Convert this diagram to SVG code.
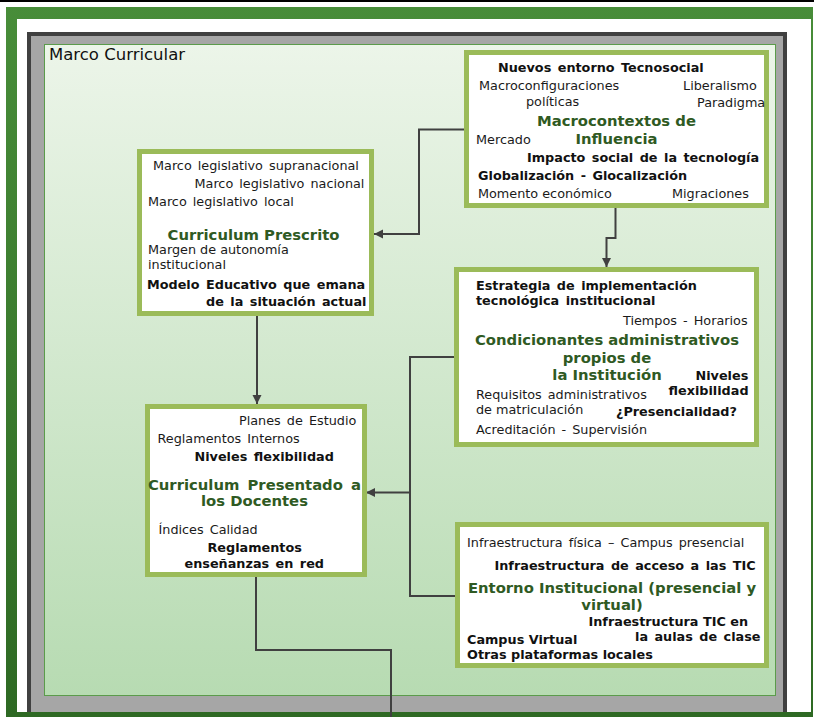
<svg xmlns="http://www.w3.org/2000/svg" width="814" height="717" viewBox="0 0 814 717">
<defs>
<linearGradient id="frameG" x1="0" y1="0" x2="0" y2="717" gradientUnits="userSpaceOnUse">
<stop offset="0" stop-color="#488d39"/>
<stop offset="1" stop-color="#2e6923"/>
</linearGradient>
<linearGradient id="bgG" x1="0" y1="44" x2="0" y2="696" gradientUnits="userSpaceOnUse">
<stop offset="0" stop-color="#ecf5e9"/>
<stop offset="1" stop-color="#b7dbb2"/>
</linearGradient>
<marker id="arr" markerUnits="userSpaceOnUse" markerWidth="10" markerHeight="10" refX="9" refY="5" orient="auto">
<path d="M0,0.5 L9,5 L0,9.5 Z" fill="#404040"/>
</marker>
</defs>
<style>
.node{fill:#ffffff;stroke:#9bbb59;stroke-width:5}
.t{font-family:"DejaVu Sans",Verdana,sans-serif;font-size:12.8px;fill:#1a1a1a}
.b{font-family:"DejaVu Sans",Verdana,sans-serif;font-size:12.8px;font-weight:bold;fill:#111111}
.h{font-family:"DejaVu Sans",Verdana,sans-serif;font-size:14.8px;font-weight:bold;fill:#2f5a23;text-anchor:middle}
.c{fill:none;stroke:#404040;stroke-width:2}
</style>
<rect x="0" y="0" width="814" height="717" fill="#ffffff"/>
<rect x="0" y="0" width="814" height="2" fill="#000000"/>
<g id="background">
<rect x="29" y="34" width="756" height="690" fill="#a6a6a6" stroke="#404040" stroke-width="4"/>
<path d="M6,7 H813 V717 H6 Z M17,19 V712 H811 V19 Z" fill="url(#frameG)" fill-rule="evenodd"/>
<rect x="44.5" y="44.5" width="731" height="651" fill="url(#bgG)" stroke="#5b9b4b" stroke-width="1"/>
<text x="49" y="60" style="font-family:'DejaVu Sans',Verdana,sans-serif;font-size:16.5px;fill:#111111">Marco Curricular</text>
</g>
<g id="connectors">
<path class="c" d="M464,129.5 H419 V234 H374" marker-end="url(#arr)"/>
<path class="c" d="M615.5,208 V238 H606.5 V267" marker-end="url(#arr)"/>
<path class="c" d="M257,316 V404" marker-end="url(#arr)"/>
<path class="c" d="M454,357 H410 V596 H455"/>
<path class="c" d="M410,492.5 H366" marker-end="url(#arr)"/>
<path class="c" d="M256,577 V650 H391 V717"/>
</g>
<g id="macrocontextos">
<rect class="node" x="466.5" y="52.5" width="300" height="153"/>
<text class="b" x="498" y="72" word-spacing="2">Nuevos entorno Tecnosocial</text>
<text class="t" x="479" y="90">Macroconfiguraciones</text>
<text class="t" x="526" y="105.5">políticas</text>
<text class="t" x="683" y="89.5">Liberalismo</text>
<text class="t" x="697" y="107">Paradigma</text>
<text class="h" x="616.5" y="126">Macrocontextos de</text>
<text class="h" x="616.5" y="144">Influencia</text>
<text class="t" x="476" y="143.5">Mercado</text>
<text class="b" x="527" y="162" word-spacing="2">Impacto social de la tecnología</text>
<text class="b" x="478" y="179.5" word-spacing="2">Globalización  - Glocalización</text>
<text class="t" x="478" y="197.5">Momento económico</text>
<text class="t" x="672" y="197.5">Migraciones</text>
</g>
<g id="curriculum-prescrito">
<rect class="node" x="139.5" y="151.5" width="232" height="162"/>
<text class="t" x="153" y="170" word-spacing="2">Marco legislativo supranacional</text>
<text class="t" x="194.5" y="188" word-spacing="2">Marco legislativo nacional</text>
<text class="t" x="148" y="206" word-spacing="2">Marco legislativo local</text>
<text class="h" x="253.5" y="240">Curriculum Prescrito</text>
<text class="t" x="148" y="253.5">Margen de autonomía</text>
<text class="t" x="148" y="268.5">institucional</text>
<text class="b" x="147" y="288.5" word-spacing="2">Modelo Educativo que emana</text>
<text class="b" x="206" y="306" word-spacing="2">de la situación actual</text>
</g>
<g id="condicionantes">
<rect class="node" x="456.5" y="269.5" width="300" height="175"/>
<text class="b" x="476" y="289.5" word-spacing="2">Estrategia de implementación</text>
<text class="b" x="476" y="305" word-spacing="2">tecnológica institucional</text>
<text class="t" x="623" y="324.5" word-spacing="2">Tiempos - Horarios</text>
<text class="h" x="607" y="345">Condicionantes administrativos</text>
<text class="h" x="607" y="363">propios de</text>
<text class="h" x="607" y="380">la Institución</text>
<text class="b" x="695.5" y="380">Niveles</text>
<text class="b" x="668.5" y="394.5">flexibilidad</text>
<text class="t" x="476" y="398.5" word-spacing="2">Requisitos administrativos</text>
<text class="t" x="476" y="413.5">de matriculación</text>
<text class="b" x="616" y="416">¿Presencialidad?</text>
<text class="t" x="476" y="433.5" word-spacing="2">Acreditación - Supervisión</text>
</g>
<g id="curriculum-presentado">
<rect class="node" x="147.5" y="406.5" width="217" height="168"/>
<text class="t" x="239" y="425" word-spacing="2">Planes de Estudio</text>
<text class="t" x="157.5" y="443" word-spacing="2">Reglamentos Internos</text>
<text class="b" x="194.5" y="461" word-spacing="2">Niveles flexibilidad</text>
<text class="h" x="254.5" y="490" word-spacing="3">Curriculum Presentado a</text>
<text class="h" x="254.5" y="506">los Docentes</text>
<text class="t" x="158.5" y="533.5" word-spacing="2">Índices Calidad</text>
<text class="b" x="207.5" y="552">Reglamentos</text>
<text class="b" x="184.5" y="567.5" word-spacing="2">enseñanzas en red</text>
</g>
<g id="entorno">
<rect class="node" x="457.5" y="524.5" width="309" height="141"/>
<text class="t" x="467" y="547" word-spacing="2">Infraestructura física – Campus presencial</text>
<text class="b" x="494.5" y="569.5" word-spacing="2">Infraestructura de acceso a las TIC</text>
<text class="h" x="612" y="592.5">Entorno Institucional (presencial y</text>
<text class="h" x="612" y="609.5">virtual)</text>
<text class="b" x="588.5" y="626">Infraestructura TIC en</text>
<text class="b" x="635" y="641" word-spacing="2">la aulas de clase</text>
<text class="b" x="467" y="643.5">Campus Virtual</text>
<text class="b" x="467" y="658.5">Otras plataformas locales</text>
</g>
</svg>
